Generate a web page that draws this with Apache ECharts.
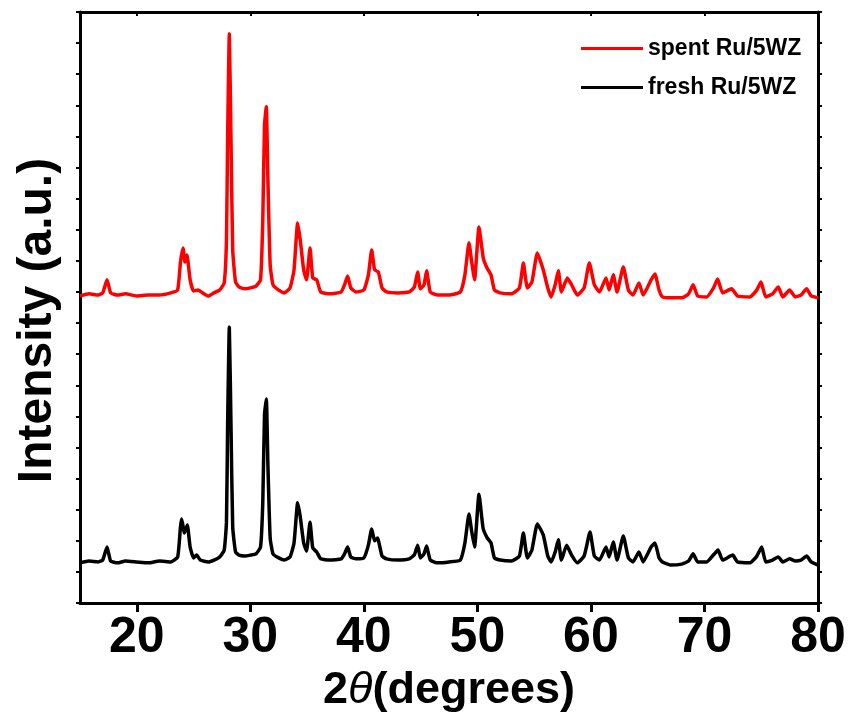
<!DOCTYPE html>
<html>
<head>
<meta charset="utf-8">
<script src="https://cdn.jsdelivr.net/npm/echarts@6/dist/echarts.min.js"></script>
<style>html,body{margin:0;padding:0;background:#fff}#c{width:849px;height:720px}</style>
</head>
<body>
<div id="c"></div>
<script>
var seriesNames = ['spent Ru/5WZ', 'fresh Ru/5WZ'];
var xTicks = [20, 30, 40, 50, 60, 70, 80];

var thetaSpent = [15.0,15.8,16.6,17.0,17.38,17.7,18.3,19.0,20.0,21.0,22.0,23.0,23.6,23.85,24.07,24.25,24.42,24.7,25.0,25.4,25.8,26.3,26.8,27.3,27.7,27.9,28.0,28.15,28.3,28.45,28.7,29.0,29.5,30.0,30.5,30.9,31.1,31.25,31.41,31.55,31.75,32.0,32.5,33.0,33.5,33.85,34.17,34.4,34.7,34.95,35.26,35.5,35.85,36.2,37.0,38.0,38.3,38.57,38.85,39.3,40.0,40.4,40.69,40.95,41.28,41.6,42.0,43.0,44.0,44.45,44.74,44.98,45.3,45.53,45.85,46.5,47.5,48.5,48.9,49.26,49.5,49.75,50.14,50.52,50.85,51.2,51.5,52.0,53.0,53.7,54.05,54.4,54.8,55.28,55.8,56.2,56.5,56.85,57.13,57.4,57.92,58.3,58.8,59.4,59.86,60.3,60.75,61.33,61.6,61.97,62.3,62.85,63.3,63.7,64.23,64.6,65.3,65.64,66.0,66.3,67.0,68.0,68.6,69.0,69.4,70.2,70.8,71.16,71.6,72.4,72.9,74.0,74.6,74.98,75.4,76.0,76.5,76.9,77.5,78.0,78.5,79.0,79.4,80.0];
var intensitySpent = [9.87,9.94,9.90,9.97,10.39,9.97,9.90,9.94,9.87,9.90,9.90,9.97,10.06,10.96,11.41,10.96,11.19,10.39,10.03,10.06,9.97,9.87,9.97,10.06,10.29,11.67,14.89,18.30,14.89,11.35,10.32,10.16,10.10,10.13,10.19,10.39,12.32,15.37,15.95,13.60,10.87,10.23,10.06,9.97,10.13,10.71,12.22,11.67,10.71,10.39,11.41,10.45,10.39,10.00,9.94,10.00,10.23,10.51,10.13,10.00,10.06,10.55,11.35,10.71,10.64,10.13,10.00,9.97,10.00,10.16,10.64,10.10,10.23,10.68,10.00,9.90,9.90,10.00,10.55,11.58,10.96,10.39,12.09,11.09,10.77,10.55,10.06,9.97,9.94,10.13,10.93,10.13,10.32,11.25,10.71,10.13,9.84,10.23,10.68,10.00,10.45,10.23,9.90,10.13,10.93,10.23,10.00,10.45,10.06,10.55,10.00,10.80,10.06,9.90,10.29,9.90,10.39,10.58,10.06,9.84,9.81,9.81,9.94,10.23,9.87,9.84,10.13,10.42,9.97,10.10,9.87,9.84,10.06,10.32,9.84,9.94,10.16,9.84,10.06,9.84,9.90,10.10,9.87,9.81];

var thetaFresh = [15.0,15.8,16.6,17.0,17.38,17.7,18.3,19.0,20.0,21.0,22.0,23.0,23.6,23.85,23.95,24.2,24.45,24.7,25.0,25.27,25.6,26.3,26.8,27.3,27.7,27.9,28.0,28.15,28.3,28.45,28.7,29.0,29.5,30.0,30.5,30.9,31.1,31.25,31.41,31.55,31.75,32.0,32.5,33.0,33.5,33.85,34.17,34.4,34.7,34.95,35.26,35.5,35.85,36.2,37.0,38.0,38.3,38.57,38.85,39.3,40.0,40.4,40.69,40.95,41.2,41.6,42.0,43.0,44.0,44.45,44.74,44.98,45.3,45.53,45.85,46.5,47.5,48.5,48.9,49.26,49.5,49.75,50.14,50.5,50.85,51.2,51.5,52.0,53.0,53.7,54.05,54.4,54.8,55.28,55.8,56.2,56.5,56.85,57.13,57.4,57.86,58.3,58.8,59.4,59.92,60.3,60.75,61.33,61.6,61.97,62.3,62.85,63.3,63.7,64.23,64.6,65.3,65.64,66.0,66.3,67.0,68.0,68.6,69.0,69.4,70.2,70.8,71.2,71.6,72.5,72.9,74.0,74.6,75.04,75.4,76.0,76.5,76.9,77.5,78.0,78.5,79.0,79.4,80.0];
var intensityFresh = [1.29,1.35,1.32,1.38,1.80,1.35,1.29,1.35,1.32,1.29,1.35,1.32,1.48,2.45,2.70,2.25,2.51,1.80,1.45,1.54,1.38,1.32,1.38,1.48,1.70,2.60,5.69,8.87,5.69,2.44,1.64,1.54,1.51,1.54,1.58,1.80,3.25,6.05,6.56,4.44,2.09,1.58,1.45,1.38,1.48,1.93,3.22,2.77,1.93,1.67,2.60,1.77,1.64,1.42,1.38,1.42,1.58,1.80,1.48,1.42,1.45,1.86,2.38,2.00,2.09,1.51,1.42,1.38,1.42,1.55,1.86,1.45,1.58,1.83,1.38,1.29,1.32,1.38,1.93,2.86,2.30,1.80,3.50,2.41,2.10,1.93,1.45,1.38,1.35,1.51,2.25,1.45,1.70,2.54,2.19,1.51,1.32,1.64,2.03,1.38,1.86,1.54,1.29,1.51,2.28,1.51,1.38,1.80,1.48,1.96,1.38,2.15,1.45,1.32,1.64,1.32,1.80,1.93,1.45,1.32,1.22,1.25,1.35,1.58,1.32,1.32,1.55,1.70,1.38,1.54,1.32,1.29,1.50,1.80,1.32,1.38,1.48,1.32,1.42,1.35,1.38,1.51,1.32,1.22];

function zip(a, b) { return a.map(function (v, i) { return [v, b[i]]; }); }

var FONT = 'Liberation Sans, Arial, sans-serif';
var NARROW = '"Liberation Sans Narrow", "Arial Narrow", "Liberation Sans", sans-serif';
var chart = echarts.init(document.getElementById('c'), null, {renderer: 'canvas'});
var axisLine = {show: true, onZero: false, lineStyle: {color: '#000', width: 3}};
chart.setOption({
  animation: false,
  backgroundColor: '#fff',
  grid: {left: 80, right: 31, top: 12, bottom: 117, containLabel: false},
  legend: {
    orient: 'vertical', left: 581, top: 37, itemGap: 16, padding: 0,
    icon: 'rect', itemWidth: 62, itemHeight: 3,
    textStyle: {fontFamily: FONT, fontSize: 23, fontWeight: 'bold', color: '#000'},
    data: seriesNames
  },
  xAxis: [{
    type: 'value', min: 15, max: 80, position: 'bottom',
    axisLine: axisLine,
    axisTick: {show: true, customValues: xTicks, length: 9, inside: false, lineStyle: {color: '#000', width: 3}},
    minorTick: {show: false},
    axisLabel: {customValues: xTicks, margin: 10, fontFamily: NARROW, fontSize: 50, fontWeight: 'bold', color: '#000'},
    splitLine: {show: false},
    name: '{a|2}{b|θ}{a|(degrees)}', nameLocation: 'middle', nameGap: 64,
    nameTextStyle: {rich: {
      a: {fontFamily: FONT, fontSize: 45, fontWeight: 'bold', color: '#000'},
      b: {fontFamily: FONT, fontSize: 45, fontStyle: 'italic', color: '#000'}
    }}
  }, {
    type: 'value', min: 15, max: 80, position: 'top',
    axisLine: axisLine,
    axisTick: {show: true, customValues: xTicks, length: 4, inside: true, lineStyle: {color: '#000', width: 2}},
    axisLabel: {show: false},
    splitLine: {show: false}
  }],
  yAxis: [{
    type: 'value', min: 0, max: 19, interval: 1, position: 'left',
    axisLine: axisLine,
    axisTick: {show: true, length: 4, inside: false, lineStyle: {color: '#000', width: 2}},
    axisLabel: {show: false},
    splitLine: {show: false},
    name: 'Intensity (a.u.)', nameLocation: 'middle', nameRotate: 90, nameGap: 18,
    nameTextStyle: {fontFamily: FONT, fontSize: 48, fontWeight: 'bold', color: '#000', padding: [0, 26, 0, 0]}
  }, {
    type: 'value', min: 0, max: 19, interval: 1, position: 'right',
    axisLine: axisLine,
    axisTick: {show: true, length: 4, inside: false, lineStyle: {color: '#000', width: 2}},
    axisLabel: {show: false},
    splitLine: {show: false}
  }],
  series: [{
    name: seriesNames[0], type: 'line', xAxisIndex: 0, yAxisIndex: 0,
    data: zip(thetaSpent, intensitySpent), showSymbol: false, smooth: 0.15,
    lineStyle: {color: '#ff0000', width: 3.5}, itemStyle: {color: '#ff0000'}
  }, {
    name: seriesNames[1], type: 'line', xAxisIndex: 0, yAxisIndex: 0,
    data: zip(thetaFresh, intensityFresh), showSymbol: false, smooth: 0.15,
    lineStyle: {color: '#000000', width: 3.5}, itemStyle: {color: '#000000'}
  }]
});
</script>
</body>
</html>
